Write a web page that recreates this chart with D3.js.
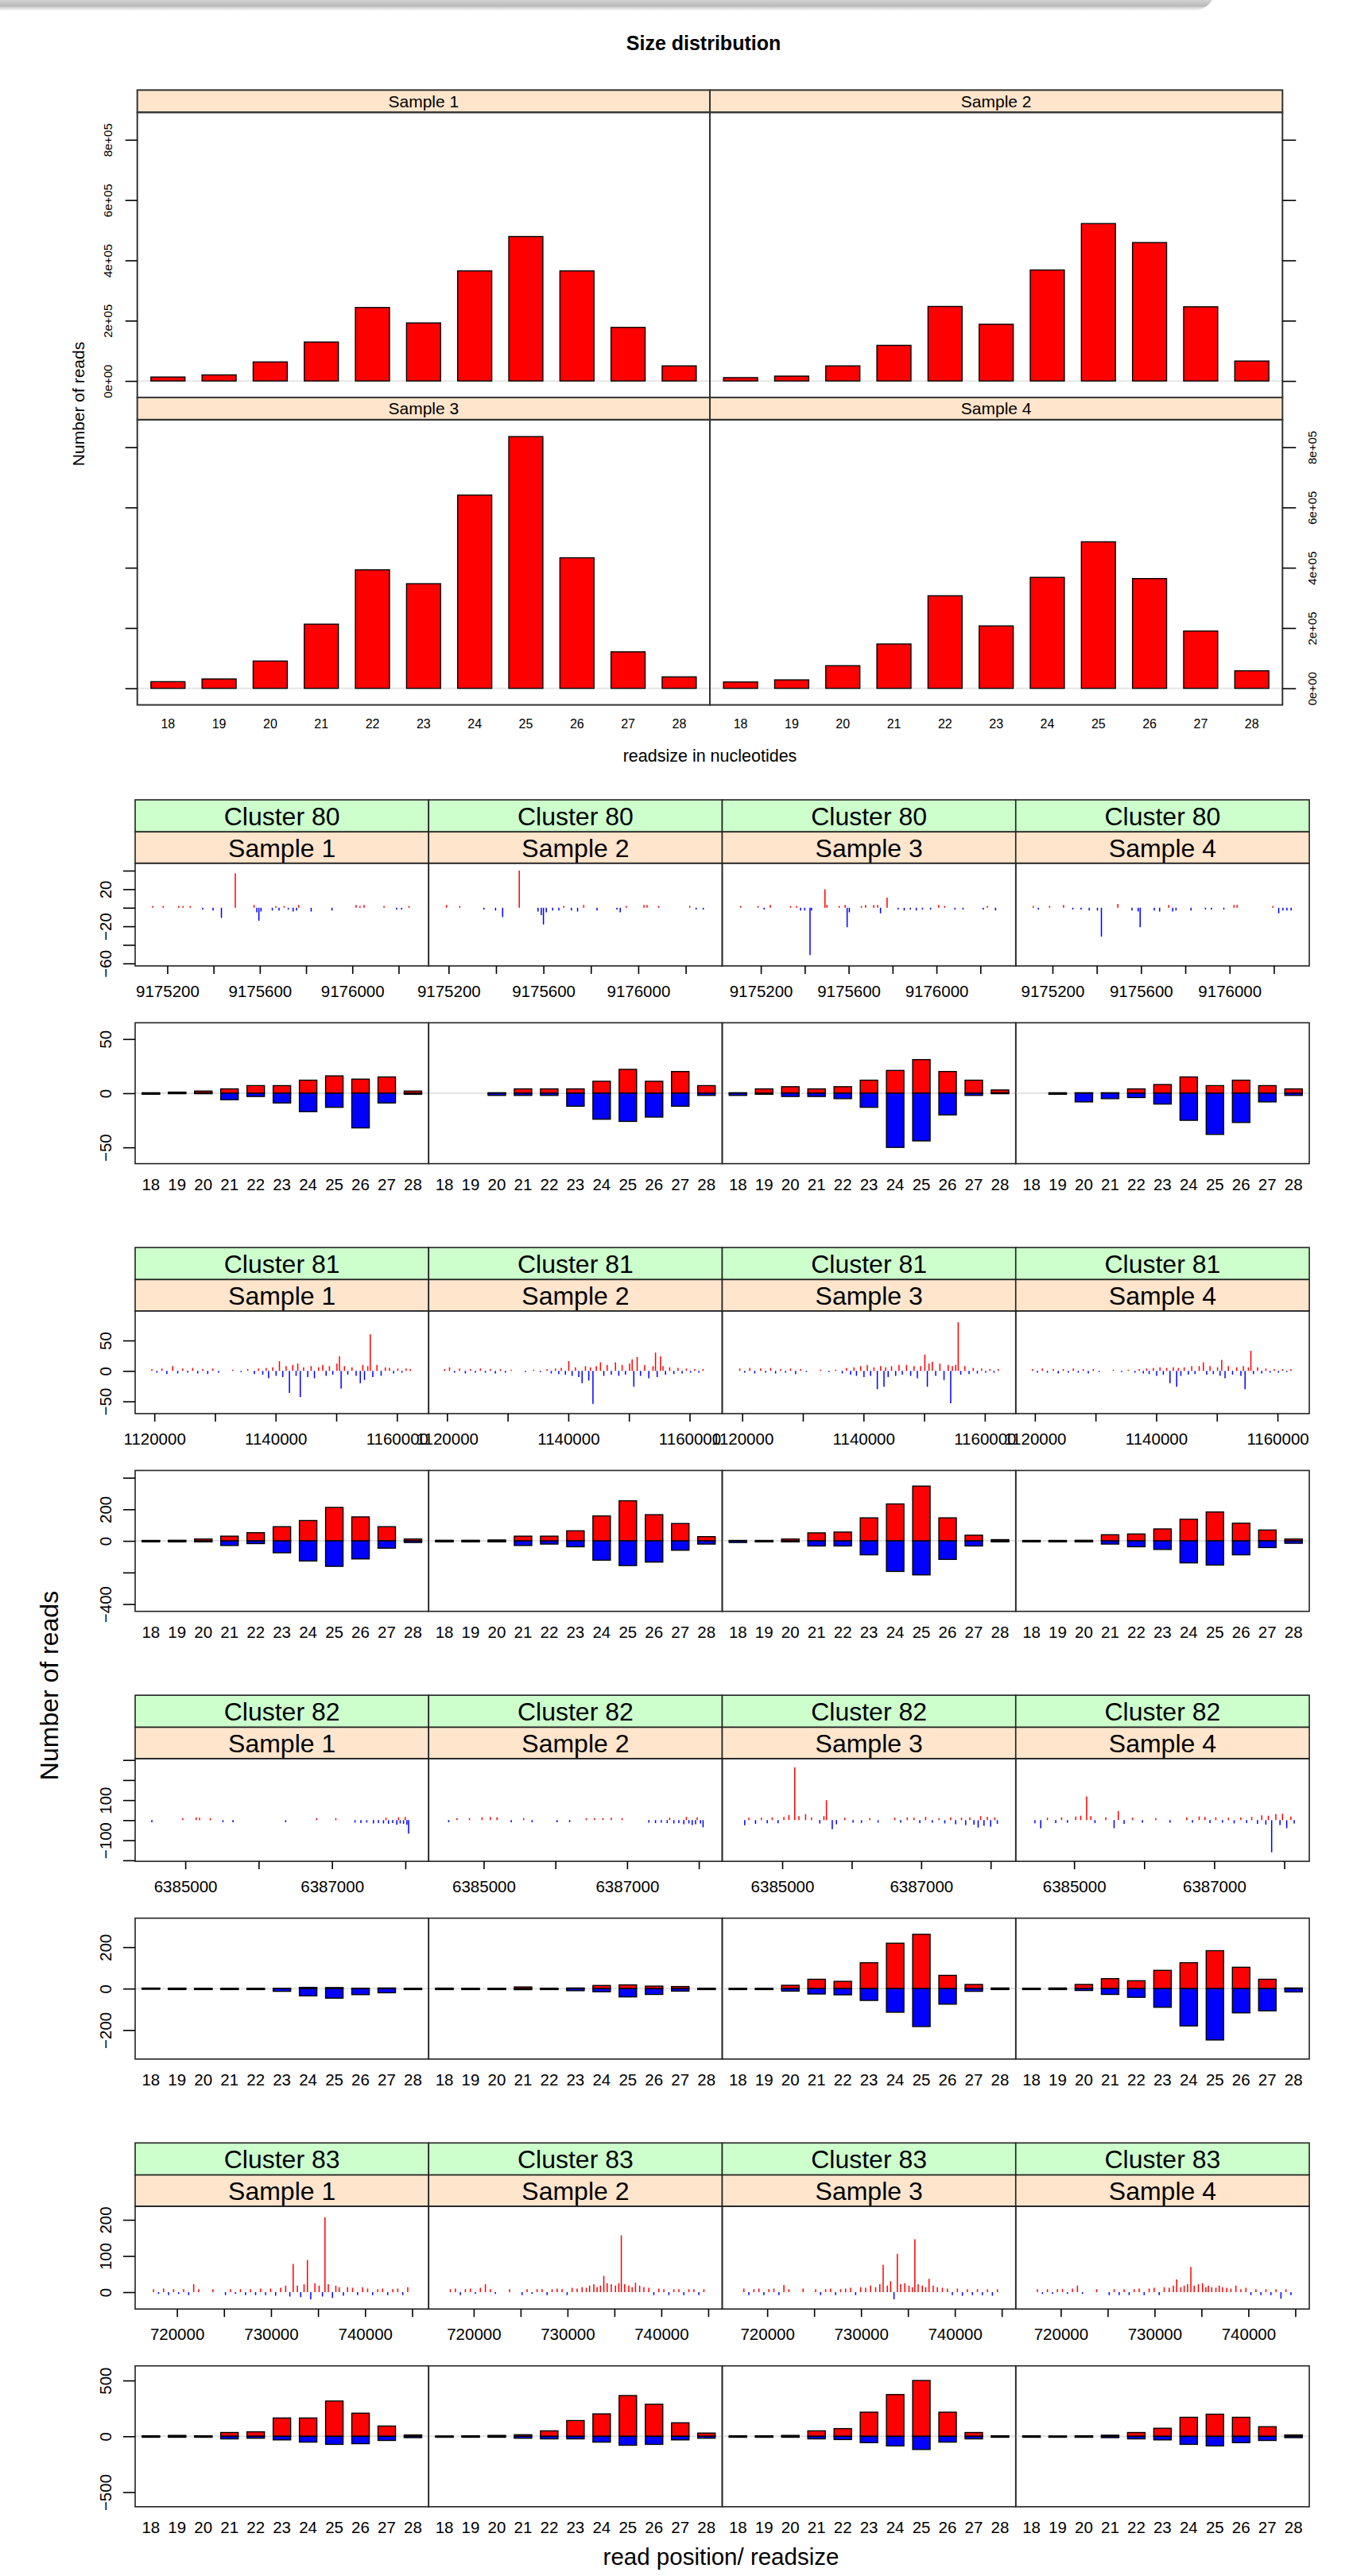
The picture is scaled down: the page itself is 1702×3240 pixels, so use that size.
<!DOCTYPE html>
<html>
<head>
<meta charset="utf-8">
<script src="https://cdn.jsdelivr.net/npm/d3@7/dist/d3.min.js"></script>
<style>
html,body{margin:0;padding:0;background:#fff;}
svg{display:block;}
</style>
</head>
<body>
<svg id="chart" width="1702" height="3240"></svg>
<script>
// ================= DATA =================
const readSizes = ["18","19","20","21","22","23","24","25","26","27","28"];
const sampleNames = ["Sample 1","Sample 2","Sample 3","Sample 4"];
const clusterNames = ["Cluster 80","Cluster 81","Cluster 82","Cluster 83"];

// Size distribution overview (number of reads per read size)
const overviewS1 = [13000,20000,63000,129000,243500,192500,365000,479000,365000,177600,50000];
const overviewS2 = [11000,16000,50000,118000,247000,188000,368000,522000,459000,246000,66000];
const overviewS3 = [22000,31000,90500,212700,393000,347000,641000,835000,433000,121000,38000];
const overviewS4 = [21000,28000,75000,147000,307000,207000,368000,486000,364000,190000,58000];
const overviewYDomain = [-55000, 891000];
const overviewYTicks = [0,200000,400000,600000,800000];
const overviewYLabels = ["0e+00","2e+05","4e+05","6e+05","8e+05"];

// ---- Cluster 80 : read positions (signed: + strand red, - strand blue)
const c80Pos = [
 [9175137,9175182,9175249,9175268,9175299,9175353,9175398,9175434,9175494,9175575,9175587,9175596,9175605,9175654,9175669,9175683,9175705,9175723,9175744,9175759,9175768,9175822,9175912,9176016,9176033,9176051,9176137,9176191,9176213,9176245],
 [9175191,9175247,9175349,9175398,9175428,9175498,9175577,9175591,9175600,9175612,9175639,9175665,9175686,9175718,9175744,9175770,9175826,9175910,9175924,9175949,9176024,9176037,9176086,9176217,9176244,9176274],
 [9175108,9175187,9175215,9175243,9175335,9175363,9175381,9175400,9175424,9175431,9175492,9175501,9175557,9175584,9175593,9175603,9175658,9175677,9175714,9175732,9175745,9175775,9175825,9175853,9175881,9175908,9175936,9175973,9176010,9176037,9176084,9176121,9176213,9176232,9176269],
 [9175113,9175136,9175187,9175250,9175292,9175329,9175366,9175403,9175421,9175495,9175559,9175587,9175596,9175660,9175684,9175725,9175743,9175758,9175826,9175891,9175918,9175974,9176020,9176034,9176195,9176222,9176241,9176259,9176278]
];
const c80Val = [
 [2,2,2,2,2,-2,-3,-11,37,3,-5,-14,-4,-3,2,-3,2,-2,-4,-3,3,-4,-3,3,2,3,2,-2,-2,2],
 [3,2,-2,-3,-10,40,-4,-8,-18,-5,-3,-3,2,-3,-4,3,-3,-2,-5,2,3,3,2,2,-2,-2],
 [2,2,-2,3,2,2,-3,-3,-51,-3,20,3,2,3,-21,-5,2,3,3,3,-6,11,-2,-3,-2,-3,-2,-2,3,2,-2,-2,-2,2,-3],
 [2,-2,2,3,-2,-2,-3,-3,-31,4,-3,-4,-21,-3,-4,3,-4,-3,-3,-2,-2,-2,3,3,2,-6,-3,-3,-3]
];
const c80XDomains = [[9175061,9176330],[9175116,9176354],[9175024,9176361],[9175034,9176360]];
const c80XTicks = [9175200,9175400,9175600,9175800,9176000,9176200];
const c80XLabels = ["9175200","","9175600","","9176000",""];
const c80PosYDomain = [-62.7, 48];
const c80PosYTicks = [-60,-40,-20,0,20,40];
const c80PosYLabels = ["\u221260","","\u221220","","20",""];
const c80SizePlus = [
 [0,1,2,4,7,7,12,16,13,15,2],
 [null,null,0,4,4,4,11,22,11,20,7],
 [0,4,6,4,6,12,21,31,20,12,3],
 [null,0,0,0,4,8,15,7,12,7,4]
];
const c80SizeMinus = [
 [-1,0,0,-6,-3,-9,-17,-13,-32,-9,-1],
 [null,null,-2,-2,-2,-12,-24,-26,-22,-12,-2],
 [-2,-1,-3,-3,-5,-13,-50,-44,-20,-2,0],
 [null,-1,-8,-5,-4,-10,-25,-38,-27,-8,-2]
];
const c80SizeYDomain = [-65, 65];
const c80SizeYTicks = [-50,0,50];
const c80SizeYLabels = ["\u221250","0","50"];

// ---- Cluster 81
const c81Pos = [1119588,1120413,1121238,1122063,1123025,1123850,1124675,1125500,1126325,1127150,1127975,1128800,1129625,1130588,1132925,1134300,1135400,
 1136500,1137188,1137875,1138425,1138838,1139525,1140075,1140625,1141175,1141725,1142275,1142825,1143375,1143650,1144063,1144613,1145300,1145850,1146400,1147088,1147775,1148325,1148875,1149425,1150113,1150525,1150800,1151350,1151900,1152588,1153275,1153963,1154375,1154650,1155200,1155613,1156025,1156713,1157400,1158088,1158775,1159463,1160150,1160838,1161525,1162213];
const c81Val = [
 [3,-3,4,-5,8,-4,4,-3,5,-4,3,-5,4,-3,2,-2,3,
  -5,4,-6,5,-12,6,-8,16,-10,8,-36,10,-8,12,-43,6,-10,8,-12,6,10,-8,8,-6,12,24,-29,8,-6,6,-8,-20,10,-15,8,60,-10,10,-8,6,5,-4,4,-3,4,3],
 [3,6,-3,4,-4,3,-3,4,-3,3,-4,3,-3,2,-2,2,-2,
  3,-4,4,-5,5,-6,16,-8,6,-10,-20,8,-16,6,-54,8,14,-8,10,-6,14,-8,10,-6,12,19,-26,23,-8,10,-12,8,30,-10,24,8,-6,6,-5,5,-4,4,-3,3,-3,3],
 [4,-3,5,-4,4,-3,5,-4,3,-3,4,-5,3,-2,2,-2,2,
  -4,5,-6,6,-8,8,-10,10,-8,6,-30,8,-26,6,-10,8,-8,10,-6,10,-8,8,-12,8,27,-26,12,15,-8,12,-15,10,-53,8,10,80,-6,8,-5,5,-4,4,-3,3,-3,3],
 [3,-3,4,-3,3,-4,3,-3,4,-3,3,-4,3,-2,2,-2,2,
  -3,3,-4,4,-5,5,-8,6,-6,5,-20,6,-26,5,-8,6,-6,8,-5,8,14,-6,8,-5,6,-8,18,-12,8,-6,6,-8,8,-30,6,33,-5,6,-4,4,-3,3,-3,3,-2,3]
];
const c81XDomains = [[1116830,1165240],[1116975,1165375],[1116700,1165100],[1116838,1165238]];
const c81XTicks = [1120000,1130000,1140000,1150000,1160000];
const c81XLabels = ["1120000","","1140000","","1160000"];
const c81PosYDomain = [-70.1, 98.6];
const c81PosYTicks = [-50,0,50];
const c81PosYLabels = ["\u221250","0","50"];
const c81SizePlus = [
 [3,4,12,30,52,90,129,212,152,90,12],
 [4,4,6,30,30,64,158,254,166,110,27],
 [3,3,12,51,56,146,234,347,146,36,8],
 [3,3,4,39,44,76,137,183,112,69,12]
];
const c81SizeMinus = [
 [-5,-5,-4,-29,-17,-75,-127,-161,-114,-46,-10],
 [-6,-5,-5,-29,-20,-37,-122,-156,-134,-59,-20],
 [-10,-6,-4,-32,-32,-88,-193,-215,-117,-32,-3],
 [-5,-5,-5,-20,-37,-54,-139,-153,-88,-42,-15]
];
const c81SizeYDomain = [-446, 446];
const c81SizeYTicks = [-400,-200,0,200,400];
const c81SizeYLabels = ["\u2212400","","0","200",""];

// ---- Cluster 82
const c82Pos = [
 [6384544,6384966,6385148,6385194,6385342,6385513,6385650,6386368,6386790,6387052,6387314,6387394,6387474,6387565,6387633,6387702,6387736,6387770,6387827,6387884,6387907,6387930,6387975,6387998,6388021,6388044],
 [6384512,6384628,6384802,6384977,6385093,6385186,6385384,6385558,6385675,6386023,6386198,6386430,6386547,6386663,6386779,6386930,6387303,6387396,6387477,6387559,6387593,6387652,6387721,6387791,6387826,6387861,6387908,6387954,6387977,6388024,6388059],
 [6384460,6384520,6384616,6384700,6384784,6384856,6384940,6385024,6385096,6385180,6385240,6385336,6385420,6385540,6385600,6385636,6385720,6385780,6385900,6386020,6386140,6386260,6386380,6386620,6386704,6386800,6386896,6386980,6387064,6387160,6387256,6387340,6387424,6387496,6387580,6387640,6387700,6387760,6387820,6387856,6387904,6387952,6388000,6388060,6388096],
 [6384441,6384524,6384619,6384738,6384822,6384905,6385024,6385095,6385179,6385238,6385298,6385452,6385571,6385631,6385714,6385833,6385976,6386166,6386369,6386607,6386690,6386785,6386868,6386940,6387023,6387118,6387202,6387285,6387380,6387463,6387535,6387618,6387678,6387737,6387773,6387820,6387880,6387939,6387975,6388035,6388094,6388142]
];
const c82Val = [
 [-10,10,14,12,10,-10,-10,-10,10,10,-12,-14,-12,-16,-14,-16,12,-18,-14,-22,14,-16,-18,16,-22,-67],
 [-10,10,10,14,16,14,-10,10,-10,-10,-10,10,10,10,12,10,-12,-14,-12,-14,12,-16,-14,-20,16,-16,-24,-20,14,-16,-35],
 [-25,12,-18,12,-15,14,-15,16,25,263,20,30,14,-16,20,100,-45,-20,12,-12,-14,10,-12,12,-12,14,12,-14,16,-12,10,-16,14,-20,12,-25,14,-22,-37,20,-28,16,-32,14,-18],
 [-15,-40,12,-14,14,-12,18,22,118,20,-14,14,-40,45,-18,12,-12,10,-12,14,-12,18,16,-14,14,-12,12,-16,14,-14,16,-18,24,-22,22,-160,30,-24,32,-40,18,-16]
];
const c82XDomains = [[6384316,6388318],[6384233,6388326],[6384136,6388361],[6384167,6388357]];
const c82XTicks = [6385000,6386000,6387000,6388000];
const c82XLabels = ["6385000","","6387000",""];
const c82PosYDomain = [-205, 307];
const c82PosYTicks = [-200,-100,0,100,200,300];
const c82PosYLabels = ["","\u2212100","","100","",""];
const c82SizePlus = [
 [0,0,1,1,1,1,6,5,2,3,1],
 [0,1,1,8,2,3,15,18,12,10,2],
 [1,1,16,45,35,125,219,262,64,20,3],
 [2,3,20,48,38,88,125,183,103,45,3]
];
const c82SizeMinus = [
 [0,-1,-1,-2,-2,-13,-35,-46,-29,-20,-3],
 [-1,-1,-2,-5,-3,-10,-15,-40,-28,-12,-3],
 [-2,-2,-12,-26,-30,-57,-114,-183,-75,-13,-3],
 [-2,-3,-9,-28,-42,-90,-180,-248,-117,-107,-16]
];
const c82SizeYDomain = [-340, 340];
const c82SizeYTicks = [-200,0,200];
const c82SizeYLabels = ["\u2212200","0","200"];

// ---- Cluster 83
const c83Pos = [717511,718044,718578,719111,719644,720178,720711,721245,721778,722311,723823,725156,725690,726223,726756,727290,727823,728357,728890,729423,729957,730490,731024,731557,732002,732357,732802,733157,733513,733868,734224,734669,735113,735469,735735,736091,736535,736891,737247,737691,738136,738669,739202,739736,740269,740803,741336,741869,742403,742936,743470,744003,744536];
const c83Val = [
 [8,-5,10,-8,8,-5,8,-8,22,8,8,-8,8,-5,8,-8,8,-8,10,-8,10,-10,12,18,-12,78,18,-14,22,89,-20,25,18,-12,207,22,-16,18,14,-10,14,12,-8,14,10,-8,8,10,-8,8,10,-8,14],
 [8,10,-8,8,10,-5,12,22,8,-5,8,-8,8,-5,8,8,-8,8,10,8,-8,12,10,14,12,18,22,14,18,45,25,22,18,25,157,22,18,14,26,18,14,12,-8,10,8,-8,8,8,-8,8,8,-8,8],
 [10,-8,8,10,-8,8,10,-8,20,8,10,8,-8,8,10,-8,8,10,12,-8,14,12,18,14,22,76,18,30,-20,106,22,25,18,14,146,22,18,14,37,18,14,12,10,-8,10,-10,8,-8,8,-8,8,-10,8],
 [8,-5,8,-5,8,8,-5,10,18,-5,8,-8,8,-8,8,-8,8,10,-8,10,12,-8,14,12,18,35,14,18,22,70,18,22,25,14,18,14,12,18,14,12,10,18,8,12,-8,8,-8,8,-8,8,-18,8,-8]
];
const c83XDomains = [[715555,746759],[715200,746490],[715200,746490],[715200,746490]];
const c83XTicks = [720000,725000,730000,735000,740000,745000];
const c83XLabels = ["720000","","730000","","740000",""];
const c83PosYDomain = [-46.6, 237.4];
const c83PosYTicks = [0,100,200];
const c83PosYLabels = ["0","100","200"];
const c83SizePlus = [
 [5,8,5,34,40,164,164,316,207,92,12],
 [3,5,8,14,49,141,201,365,287,121,29],
 [5,5,8,49,69,216,374,500,216,34,5],
 [5,3,5,10,34,72,170,198,170,86,12]
];
const c83SizeMinus = [
 [-8,-5,-8,-23,-17,-32,-52,-72,-66,-37,-12],
 [-8,-8,-8,-17,-23,-23,-52,-80,-72,-32,-17],
 [-8,-8,-8,-23,-29,-57,-86,-118,-52,-23,-8],
 [-8,-5,-8,-12,-23,-32,-72,-86,-57,-37,-12]
];
const c83SizeYDomain = [-631, 631];
const c83SizeYTicks = [-500,0,500];
const c83SizeYLabels = ["\u2212500","0","500"];

// ================= DRAWING =================
const FONT = "'Liberation Sans', Arial, Helvetica, sans-serif";
const RED = "#ff0000", BLUE = "#0000ff", PEACH = "#ffe5cc", GREEN = "#ccffcc";
const svg = d3.select("#chart").attr("font-family", FONT);

// window shadow band at the very top
const defs = svg.append("defs");
const sg = defs.append("linearGradient").attr("id","topShade").attr("x1",0).attr("y1",0).attr("x2",0).attr("y2",1);
sg.append("stop").attr("offset","0%").attr("stop-color","#d2d2d2");
sg.append("stop").attr("offset","55%").attr("stop-color","#b9b9b9");
sg.append("stop").attr("offset","70%").attr("stop-color","#d8d8d8");
sg.append("stop").attr("offset","100%").attr("stop-color","#ffffff");
svg.append("path").attr("d","M0,0 H1525 Q1520,9 1505,14 H0 Z").attr("fill","url(#topShade)");

// y-axis helper: rotated labels
function yAxis(g, scale, ticks, labels, side, tickLen, labelOff, fsize) {
  const ax = (side === "left" ? d3.axisLeft(scale) : d3.axisRight(scale))
    .tickValues(ticks).tickFormat((d, i) => labels[i]).tickSize(tickLen).tickPadding(0);
  g.call(ax);
  g.attr("font-family", FONT).attr("font-size", fsize);
  g.select(".domain").remove();
  g.selectAll(".tick line").attr("stroke", "#000").attr("stroke-width", 1.6);
  g.selectAll(".tick text")
    .attr("x", 0).attr("dy", null).attr("y", 0)
    .attr("transform", `translate(${side === "left" ? -labelOff : labelOff},0) rotate(-90)`)
    .attr("text-anchor", "middle").attr("dominant-baseline", "central")
    .attr("fill", "#000");
}
function xAxisLabels(g, scale, ticks, labels, tickLen, labelOff, fsize) {
  const ax = d3.axisBottom(scale).tickSize(tickLen).tickPadding(0);
  if (ticks) ax.tickValues(ticks);
  if (labels) ax.tickFormat((d, i) => labels[i]);
  g.call(ax);
  g.attr("font-family", FONT).attr("font-size", fsize);
  g.select(".domain").remove();
  g.selectAll(".tick line").attr("stroke", "#000").attr("stroke-width", 1.6);
  g.selectAll(".tick text").attr("y", labelOff).attr("dy", "0.36em").attr("fill", "#000");
}
function drawBars(g, xs, ys, vals, color) {
  const y0 = ys(0);
  const items = vals.map((v, i) => ({ v, k: readSizes[i] })).filter(d => d.v !== null);
  g.selectAll(null).data(items).join("rect")
    .attr("x", d => xs(d.k))
    .attr("width", xs.bandwidth())
    .attr("y", d => Math.min(ys(d.v), y0) - (d.v === 0 ? 0.6 : 0))
    .attr("height", d => Math.max(Math.abs(ys(d.v) - y0), 1.2))
    .attr("fill", color).attr("stroke", "#000").attr("stroke-width", 1.4);
}

// ---------- Title ----------
svg.append("text").attr("x", 885).attr("y", 63).attr("text-anchor", "middle")
  .attr("font-weight", "bold").attr("font-size", 25).text("Size distribution");

// ---------- Overview (lattice barchart) ----------
const OX0 = 172.7, OPW = 720.3, OSTRIP = 28, OPH = 358.7;
const oRowTop = [113.3, 499.9];
const ovX = d3.scaleBand().domain(readSizes).range([0, OPW]).paddingInner(1/3).paddingOuter(0.2667);
const ovY = d3.scaleLinear().domain(overviewYDomain).range([OPH, 0]);
const overviewSeries = [overviewS1, overviewS2, overviewS3, overviewS4];

overviewSeries.forEach((vals, i) => {
  const col = i % 2, row = Math.floor(i / 2);
  const g = svg.append("g").attr("transform", `translate(${OX0 + col * OPW},${oRowTop[row]})`);
  g.append("rect").attr("width", OPW).attr("height", OSTRIP).attr("fill", PEACH)
    .attr("stroke", "#333").attr("stroke-width", 2);
  g.append("text").attr("x", OPW / 2).attr("y", OSTRIP / 2).attr("dy", "0.36em")
    .attr("text-anchor", "middle").attr("font-size", 21).text(sampleNames[i]);
  const p = g.append("g").attr("transform", `translate(0,${OSTRIP})`);
  p.append("line").attr("x1", 0).attr("x2", OPW).attr("y1", ovY(0)).attr("y2", ovY(0))
    .attr("stroke", "#e6e6e6").attr("stroke-width", 2);
  drawBars(p.append("g"), ovX, ovY, vals, RED);
  p.append("rect").attr("width", OPW).attr("height", OPH).attr("fill", "none")
    .attr("stroke", "#333").attr("stroke-width", 2);
  if (col === 0) {
    yAxis(p.append("g"), ovY, overviewYTicks, row === 0 ? overviewYLabels : overviewYTicks.map(() => ""), "left", 15, 37, 15);
  } else {
    yAxis(p.append("g").attr("transform", `translate(${OPW},0)`), ovY, overviewYTicks, row === 1 ? overviewYLabels : overviewYTicks.map(() => ""), "right", 17, 37, 15);
  }
  if (row === 1) {
    xAxisLabels(p.append("g").attr("transform", `translate(0,${OPH})`), ovX, null, null, 0, 23.4, 16);
  }
});
svg.append("text").attr("transform", "translate(98,508) rotate(-90)").attr("text-anchor", "middle")
  .attr("dominant-baseline", "central").attr("font-size", 21).text("Number of reads");
svg.append("text").attr("x", 893).attr("y", 950).attr("dy", "0.36em").attr("text-anchor", "middle")
  .attr("font-size", 21.5).text("readsize in nucleotides");

// ---------- Per-cluster panels ----------
const clusterTable = [
  { pos: c80Pos, val: c80Val, xd: c80XDomains, xt: c80XTicks, xl: c80XLabels, pyd: c80PosYDomain, pyt: c80PosYTicks, pyl: c80PosYLabels,
    sp: c80SizePlus, sm: c80SizeMinus, syd: c80SizeYDomain, syt: c80SizeYTicks, syl: c80SizeYLabels },
  { pos: [c81Pos, c81Pos, c81Pos, c81Pos], val: c81Val, xd: c81XDomains, xt: c81XTicks, xl: c81XLabels, pyd: c81PosYDomain, pyt: c81PosYTicks, pyl: c81PosYLabels,
    sp: c81SizePlus, sm: c81SizeMinus, syd: c81SizeYDomain, syt: c81SizeYTicks, syl: c81SizeYLabels },
  { pos: c82Pos, val: c82Val, xd: c82XDomains, xt: c82XTicks, xl: c82XLabels, pyd: c82PosYDomain, pyt: c82PosYTicks, pyl: c82PosYLabels,
    sp: c82SizePlus, sm: c82SizeMinus, syd: c82SizeYDomain, syt: c82SizeYTicks, syl: c82SizeYLabels },
  { pos: [c83Pos, c83Pos, c83Pos, c83Pos], val: c83Val, xd: c83XDomains, xt: c83XTicks, xl: c83XLabels, pyd: c83PosYDomain, pyt: c83PosYTicks, pyl: c83PosYLabels,
    sp: c83SizePlus, sm: c83SizeMinus, syd: c83SizeYDomain, syt: c83SizeYTicks, syl: c83SizeYLabels }
];

const LX0 = 170, LPW = 369.25, LY0 = 1006, LSTEP = 563.1;
const S1H = 40.3, S2END = 79.7, PPEND = 208.9, PXLAB = 31.8, SZTOP = 280.4, SZEND = 457.6, SXLAB = 25.9;
const PPH = PPEND - S2END, SZH = SZEND - SZTOP;
const szX = d3.scaleBand().domain(readSizes).range([0, LPW]).paddingInner(1/3).paddingOuter(0.2667);

clusterTable.forEach((c, k) => {
  const G = LY0 + k * LSTEP;
  const pyS = d3.scaleLinear().domain(c.pyd).range([PPH, 0]);
  const syS = d3.scaleLinear().domain(c.syd).range([SZH, 0]);
  for (let i = 0; i < 4; i++) {
    const gx = LX0 + i * LPW;
    const g = svg.append("g").attr("transform", `translate(${gx},${G})`);
    // strips
    g.append("rect").attr("width", LPW).attr("height", S1H).attr("fill", GREEN).attr("stroke", "#222").attr("stroke-width", 1.6);
    g.append("text").attr("x", LPW / 2).attr("y", S1H / 2).attr("dy", "0.36em").attr("text-anchor", "middle")
      .attr("font-size", 32).text(clusterNames[k]);
    g.append("rect").attr("y", S1H).attr("width", LPW).attr("height", S2END - S1H).attr("fill", PEACH).attr("stroke", "#222").attr("stroke-width", 1.6);
    g.append("text").attr("x", LPW / 2).attr("y", (S1H + S2END) / 2).attr("dy", "0.36em").attr("text-anchor", "middle")
      .attr("font-size", 32).text(sampleNames[i]);

    // position panel
    const xS = d3.scaleLinear().domain(c.xd[i]).range([0, LPW]);
    const pp = g.append("g").attr("transform", `translate(0,${S2END})`);
    const clipId = `clip-${k}-${i}`;
    defs.append("clipPath").attr("id", clipId).append("rect").attr("width", LPW).attr("height", PPH);
    const spikes = c.pos[i].map((p, j) => ({ p, v: c.val[i][j] }));
    pp.append("g").attr("clip-path", `url(#${clipId})`).selectAll("line").data(spikes).join("line")
      .attr("x1", d => xS(d.p)).attr("x2", d => xS(d.p))
      .attr("y1", pyS(0)).attr("y2", d => pyS(d.v))
      .attr("stroke", d => d.v >= 0 ? RED : BLUE).attr("stroke-width", 1.5);
    pp.append("rect").attr("width", LPW).attr("height", PPH).attr("fill", "none").attr("stroke", "#222").attr("stroke-width", 1.6);
    xAxisLabels(pp.append("g").attr("transform", `translate(0,${PPH})`), xS, c.xt, c.xl, 10, PXLAB, 20.5);
    if (i === 0) yAxis(pp.append("g"), pyS, c.pyt, c.pyl, "left", 15, 38, 20.5);

    // size panel
    const sp = g.append("g").attr("transform", `translate(0,${SZTOP})`);
    sp.append("line").attr("x1", 0).attr("x2", LPW).attr("y1", syS(0)).attr("y2", syS(0))
      .attr("stroke", "#e3e3e3").attr("stroke-width", 2);
    drawBars(sp.append("g"), szX, syS, c.sp[i], RED);
    drawBars(sp.append("g"), szX, syS, c.sm[i], BLUE);
    sp.append("rect").attr("width", LPW).attr("height", SZH).attr("fill", "none").attr("stroke", "#222").attr("stroke-width", 1.6);
    xAxisLabels(sp.append("g").attr("transform", `translate(0,${SZH})`), szX, null, null, 0, SXLAB, 20.5);
    if (i === 0) yAxis(sp.append("g"), syS, c.syt, c.syl, "left", 15, 38, 20.5);
  }
});

svg.append("text").attr("transform", "translate(62,2120) rotate(-90)").attr("text-anchor", "middle")
  .attr("dominant-baseline", "central").attr("font-size", 32).text("Number of reads");
svg.append("text").attr("x", 907).attr("y", 3215).attr("dy", "0.36em").attr("text-anchor", "middle")
  .attr("font-size", 29.5).text("read position/ readsize");
</script>
</body>
</html>
